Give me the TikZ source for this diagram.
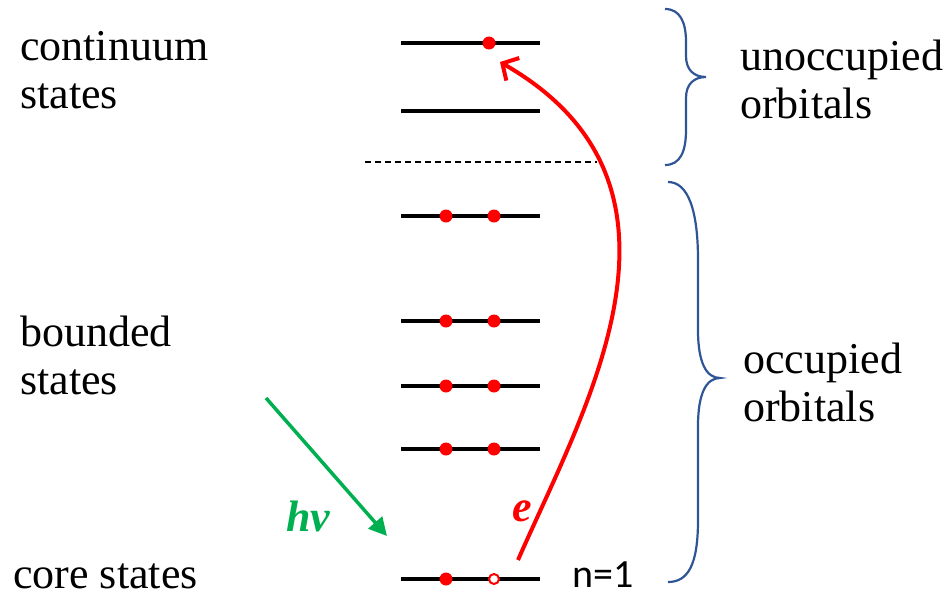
\documentclass[tikz,border=0pt]{standalone}
\usepackage{fontspec}
\setmainfont{Liberation Serif}
\newfontfamily\calib{Carlito}
\usetikzlibrary{arrows.meta}
\definecolor{lvgreen}{RGB}{0,176,80}
\definecolor{braceblue}{RGB}{47,85,151}
\begin{document}
\begin{tikzpicture}[x=1pt,y=-1pt,
  level/.style={line width=3.8pt, black},
  edot/.style={circle, fill=red, inner sep=0pt, minimum size=13pt},
  hole/.style={circle, draw=red, fill=white, line width=2pt, inner sep=0pt, minimum size=10pt},
  lbl/.style={font=\fontsize{44}{48}\selectfont, align=left, anchor=west, inner sep=0pt},
  brc/.style={draw=braceblue, line width=2.2pt},
]
\useasboundingbox (0,0) rectangle (951,595);
% levels
\foreach \y/\n in {43/1,111/2,216/3,321/4,386/5,449/6,579/7}{
  \coordinate (la\n) at (401,\y);
  \coordinate (lb\n) at (540,\y);
  \draw[level] (la\n) -- (lb\n);
}
% dashed separator
\coordinate (da) at (365,162);
\coordinate (db) at (597,162);
\draw[dashed, line width=1.5pt, dash pattern=on 6pt off 4pt] (da) -- (db);
% electrons
\node[edot] (top) at (489,43) {};
\foreach \y/\n in {216/3,321/4,386/5,449/6}{
  \node[edot] (e\n a) at (446,\y) {};
  \node[edot] (e\n b) at (494,\y) {};
}
\node[edot] (c1) at (446,579) {};
\node[hole] (c2) at (494,579) {};
% red excitation arrow
\coordinate (es) at (518,560);
\coordinate (ee) at (500,62);
\draw[red, line width=4pt, -{Straight Barb[length=12pt,width=26pt]}] (es) .. controls (585,407) and (715,185) .. (ee);
% green photon arrow
\coordinate (g1) at (266,398);
\coordinate (g2) at (387,536);
\draw[lvgreen, line width=3.5pt, -{Triangle[length=18pt,width=18pt]}] (g1) -- (g2);
\node[text=lvgreen, font=\fontsize{44}{48}\selectfont\bfseries\itshape] (hv) at (308,516) {hν};
\node[text=red, font=\fontsize{44}{48}\selectfont\bfseries\itshape] (el) at (522,511) {e};
% braces
\draw[brc] (665,9) .. controls (680,9) and (686,22) .. (686,42) -- (686,56)
  .. controls (686,70) and (694,77) .. (706,77)
  .. controls (694,77) and (686,84) .. (686,98) -- (686,130)
  .. controls (686,152) and (680,165) .. (665,165);
\draw[brc] (668,182) .. controls (688,182) and (698,210) .. (698,260) -- (698,330)
  .. controls (698,362) and (706,378) .. (720,378)
  .. controls (706,378) and (698,394) .. (698,426) -- (698,520)
  .. controls (698,565) and (688,582) .. (668,582);
% labels
\node[lbl] (lcont) at (20,70) {continuum\\states};
\node[lbl] (lbound) at (20,355) {bounded\\states};
\node[lbl, anchor=base west] (lcore) at (13,588) {core states};
\node[lbl] (lunocc) at (740,79) {unoccupied\\orbitals};
\node[lbl] (locc) at (743,382) {occupied\\orbitals};
\node[anchor=base west, inner sep=0pt, font=\calib\fontsize{40}{48}\selectfont] (n1) at (572,587) {n=1};
\end{tikzpicture}
\end{document}
